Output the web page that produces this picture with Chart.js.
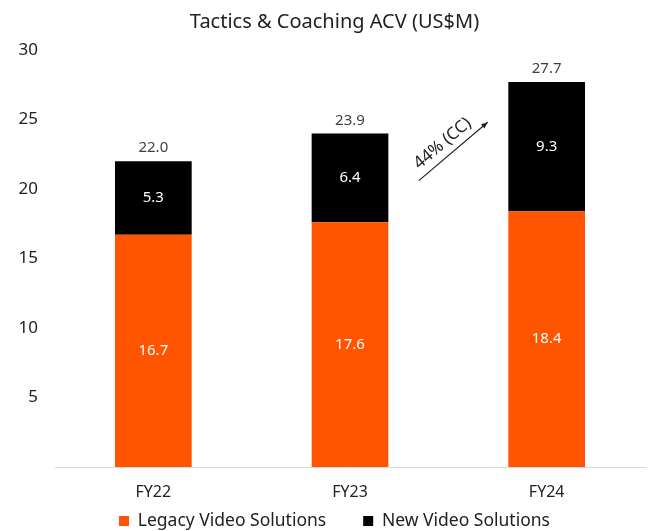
<!DOCTYPE html>
<html>
<head>
<meta charset="utf-8">
<script src="https://cdn.jsdelivr.net/npm/chart.js@4/dist/chart.umd.min.js"></script>
<style>
html,body{margin:0;padding:0;background:#fff;}
#wrap{width:650px;height:531px;}
</style>
</head>
<body>
<div id="wrap"><canvas id="c" width="650" height="531"></canvas></div>
<script>
const categories = ["FY22", "FY23", "FY24"];
const legacyValues = [16.7, 17.6, 18.4];
const newValues = [5.3, 6.4, 9.3];
const totalLabels = ["22.0", "23.9", "27.7"];
const growthLabel = "44% (CC)";
const titleText = "Tactics & Coaching ACV (US$M)";
const FONT = "'Noto Sans', 'DejaVu Sans', sans-serif";

const LEGEND_PAD = 37;
const LEGEND_FONT = 17.5;
const LEGEND_BOX_H = 29;

const segmentLabels = {
  id: "segmentLabels",
  beforeLayout(chart) {
    const lg = chart.legend;
    if (lg && !lg._patched) {
      const orig = lg.fit;
      lg.fit = function () { orig.call(this); this.height = LEGEND_BOX_H; };
      lg._patched = true;
    }
  },
  afterLayout(chart) {
    const lg = chart.legend;
    if (lg) {
      lg.top = 521 - LEGEND_PAD - LEGEND_FONT / 2;
      lg.bottom = chart.height;
      lg.height = lg.bottom - lg.top;
      lg.left += 12; lg.right += 12;
    }
    const t = chart.titleBlock;
    if (t) { t.left += 12; t.right += 12; }
  },
  afterDatasetsDraw(chart) {
    const ctx = chart.ctx;
    ctx.save();
    ctx.textAlign = "center";
    ctx.textBaseline = "middle";
    ctx.font = "15px " + FONT;
    chart.data.datasets.forEach((ds, di) => {
      const meta = chart.getDatasetMeta(di);
      meta.data.forEach((bar, i) => {
        ctx.fillStyle = "#ffffff";
        ctx.fillText(ds.data[i].toFixed(1), bar.x, (bar.y + bar.base) / 2);
      });
    });
    // totals
    const top = chart.getDatasetMeta(chart.data.datasets.length - 1);
    ctx.fillStyle = "#404040";
    top.data.forEach((bar, i) => {
      ctx.fillText(totalLabels[i], bar.x, bar.y - 13);
    });
    // growth arrow
    const xs = chart.scales.x, ys = chart.scales.y;
    const x1 = xs.getPixelForValue(1.35), y1 = ys.getPixelForValue(20.6);
    const x2 = xs.getPixelForValue(1.7), y2 = ys.getPixelForValue(24.8);
    ctx.strokeStyle = "#222";
    ctx.fillStyle = "#222";
    ctx.lineWidth = 1.2;
    ctx.beginPath();
    ctx.moveTo(x1, y1);
    ctx.lineTo(x2, y2);
    ctx.stroke();
    const ang = Math.atan2(y2 - y1, x2 - x1);
    ctx.beginPath();
    ctx.moveTo(x2, y2);
    ctx.lineTo(x2 - 7 * Math.cos(ang - 0.4), y2 - 7 * Math.sin(ang - 0.4));
    ctx.lineTo(x2 - 7 * Math.cos(ang + 0.4), y2 - 7 * Math.sin(ang + 0.4));
    ctx.closePath();
    ctx.fill();
    const mx = (x1 + x2) / 2, my = (y1 + y2) / 2;
    const off = 13;
    ctx.translate(mx + off * Math.sin(ang), my - off * Math.cos(ang));
    ctx.rotate(ang);
    ctx.font = "17px " + FONT;
    ctx.fillStyle = "#222";
    ctx.fillText(growthLabel, -3, 0);
    ctx.restore();
  }
};

new Chart(document.getElementById("c"), {
  type: "bar",
  data: {
    labels: categories,
    datasets: [
      { label: "Legacy Video Solutions", data: legacyValues, backgroundColor: "#FF5500", categoryPercentage: 1, barPercentage: 0.39 },
      { label: "New Video Solutions", data: newValues, backgroundColor: "#000000", categoryPercentage: 1, barPercentage: 0.39 }
    ]
  },
  options: {
    responsive: false,
    animation: false,
    devicePixelRatio: 1,
    layout: { padding: { left: 0, right: 5, top: 0, bottom: 0 } },
    plugins: {
      title: { display: true, text: titleText, color: "#222", font: { family: FONT, size: 20, weight: "normal", lineHeight: 1.2 }, padding: { top: 10, bottom: 16 } },
      legend: {
        position: "bottom",
        labels: { boxWidth: 10, boxHeight: 10, color: "#222", font: { family: FONT, size: LEGEND_FONT }, padding: LEGEND_PAD }
      },
      tooltip: { enabled: false }
    },
    scales: {
      x: {
        stacked: true,
        grid: { display: false, drawTicks: false },
        border: { display: true, color: "#d9d9d9" },
        ticks: { color: "#222", font: { family: FONT, size: 16, lineHeight: 1.2 }, padding: 15.4 },
        afterFit: s => { s.height = 35; }
      },
      y: {
        stacked: true,
        min: 0, max: 30,
        grid: { display: false, drawTicks: false },
        border: { display: false },
        ticks: { stepSize: 5, color: "#222", font: { family: FONT, size: 17 }, padding: 17, callback: v => v === 0 ? "" : v },
        afterFit: s => { s.width = 55; }
      }
    }
  },
  plugins: [segmentLabels]
});
</script>
</body>
</html>
